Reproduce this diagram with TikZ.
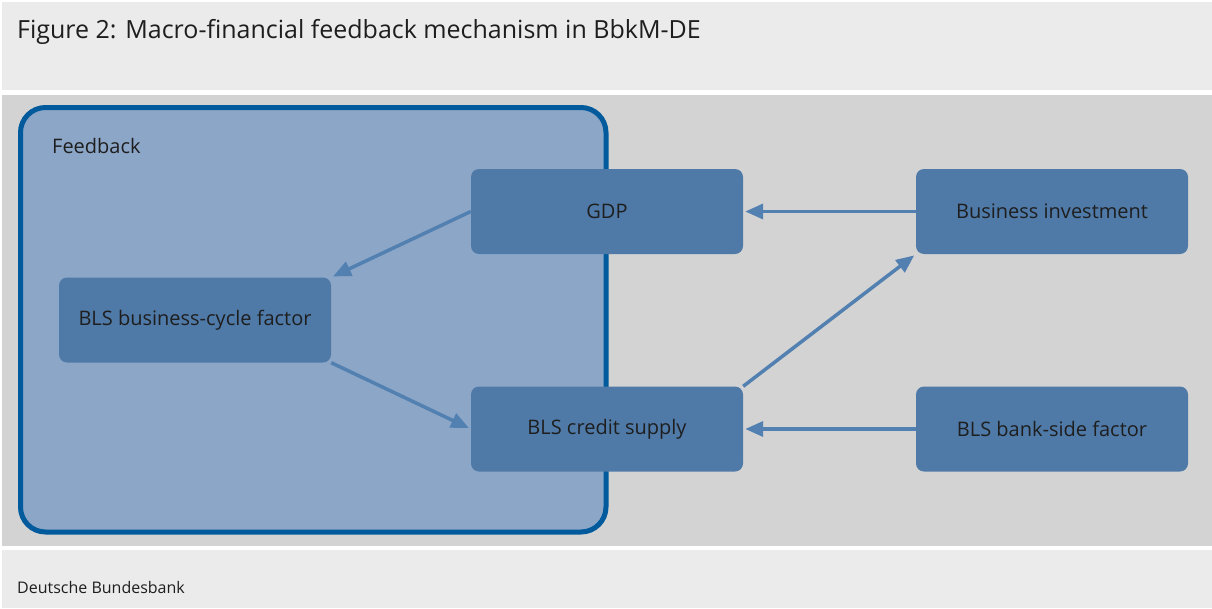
\documentclass[tikz,border=0pt]{standalone}
\usepackage{fontspec}
\setmainfont{Open Sans}
\usetikzlibrary{positioning,arrows.meta}

\definecolor{bandgrey}{RGB}{235,235,235}
\definecolor{panelgrey}{RGB}{211,211,211}
\definecolor{fbfill}{RGB}{140,166,200}
\definecolor{fbborder}{RGB}{0,90,155}
\definecolor{boxblue}{RGB}{79,122,168}
\definecolor{arrowblue}{RGB}{82,128,176}
\definecolor{textdark}{RGB}{30,30,30}

\begin{document}
\begin{tikzpicture}[x=1pt,y=-1pt,>=stealth,
  box/.style={fill=boxblue, rounded corners=8pt, minimum width=272pt,
    minimum height=85pt, inner sep=0pt, text=textdark,
    font=\fontsize{20}{24}\selectfont},
  flow/.style={draw=arrowblue, line width=3.5pt,
    -{Triangle[length=18pt,width=15pt]}, shorten >=2pt}]

% bands
\fill[white] (0,0) rectangle (1212,608);
\fill[bandgrey] (2,2) rectangle (1212,90);
\fill[panelgrey] (2,95) rectangle (1212,546);
\fill[bandgrey] (2,550) rectangle (1212,608);

\node[anchor=base west, text=textdark, font=\fontsize{25}{30}\selectfont, inner sep=0pt]
  (title) at (17,38) {Figure 2: Macro-financial feedback mechanism in BbkM-DE};
\node[anchor=base west, text=textdark, font=\fontsize{16}{19}\selectfont, inner sep=0pt]
  (source) at (17,593) {Deutsche Bundesbank};

% feedback area
\draw[line width=5pt, draw=fbborder, fill=fbfill, rounded corners=25pt]
  (20.5,107.5) rectangle (606,532);
\node[anchor=base west, text=textdark, font=\fontsize{20}{24}\selectfont, inner sep=0pt]
  (fb) at (52,153) {Feedback};

\node[box] (gdp) at (607,211.5) {GDP};
\node[box] (bcf) at (195,320) {BLS business-cycle factor};
\node[box] (bcs) at (607,429) {BLS credit supply};
\node[box] (inv) at (1052,211.5) {Business investment};
\node[box] (bsf) at (1052,429) {BLS bank-side factor};

\draw[flow] (gdp.west) -- (bcf.north east);
\draw[flow] (bcf.south east) -- (bcs.west);
\draw[flow] (inv.west) -- (gdp.east);
\draw[flow] (bsf.west) -- (bcs.east);
\draw[flow] (bcs.north east) -- (inv.south west);

\end{tikzpicture}
\end{document}
